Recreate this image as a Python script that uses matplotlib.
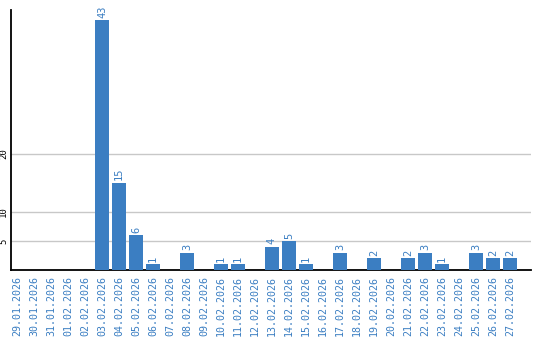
import matplotlib
matplotlib.use("Agg")
import matplotlib.pyplot as plt

dates = ["29.01.2026", "30.01.2026", "31.01.2026", "01.02.2026", "02.02.2026",
         "03.02.2026", "04.02.2026", "05.02.2026", "06.02.2026", "07.02.2026",
         "08.02.2026", "09.02.2026", "10.02.2026", "11.02.2026", "12.02.2026",
         "13.02.2026", "14.02.2026", "15.02.2026", "16.02.2026", "17.02.2026",
         "18.02.2026", "19.02.2026", "20.02.2026", "21.02.2026", "22.02.2026",
         "23.02.2026", "24.02.2026", "25.02.2026", "26.02.2026", "27.02.2026"]
counts = [0, 0, 0, 0, 0, 43, 15, 6, 1, 0, 3, 0, 1, 1, 0,
          4, 5, 1, 0, 3, 0, 2, 0, 2, 3, 1, 0, 3, 2, 2]
yticks = [5, 10, 20]

blue = "#3b7ec2"

fig = plt.figure(figsize=(5.4, 3.4), dpi=100)
ax = fig.add_axes([0.0204, 0.2059, 0.9629, 0.7647])

x = list(range(len(dates)))
ax.bar(x, counts, width=0.82, color=blue, zorder=3)

for xi, c in zip(x, counts):
    if c > 0:
        ax.text(xi, c + 0.4, str(c), rotation=90, ha="center", va="bottom",
                color=blue, fontsize=7.5, family="DejaVu Sans Mono", zorder=4)

ax.set_xlim(-0.35, 30.24)
ax.set_ylim(0, 44.7)
ax.set_yticks(yticks)
ax.set_yticklabels([str(t) for t in yticks], rotation=90, va="center",
                   fontsize=6.5, family="DejaVu Sans Mono")
ax.set_xticks(x)
ax.set_xticklabels(dates, rotation=90, color=blue, fontsize=7.2,
                   family="DejaVu Sans Mono")
ax.tick_params(axis="both", length=0, pad=4)
ax.tick_params(axis="y", pad=2)

ax.grid(axis="y", color="#c8c8c8", linewidth=1, zorder=0)
for s in ["top", "right"]:
    ax.spines[s].set_visible(False)
ax.spines["left"].set_linewidth(1.3)
ax.spines["bottom"].set_linewidth(1.3)

fig.savefig("out.png", dpi=100)
